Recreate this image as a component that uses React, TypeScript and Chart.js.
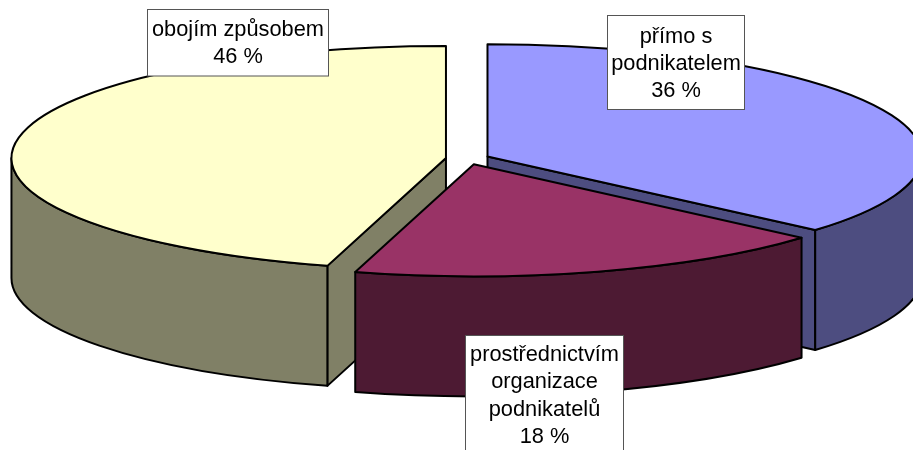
import React, { useEffect, useRef } from "react";
import { Chart, PieController, ArcElement } from "chart.js";

const categories = [["přímo s", "podnikatelem"], ["prostřednictvím", "organizace", "podnikatelů"], ["obojím způsobem"]];
const shares = [36.4, 18.0, 45.6];
const topColors = ["#9999FF", "#993366", "#FFFFCC"];
const sideColors = ["#4D4D80", "#4D1A33", "#808066"];

const WIDTH = 913;
const HEIGHT = 450;
const CENTER_X = 467.6;
const CENTER_Y = 158.8;
const RADIUS = 434.5;
const TILT = 0.258;
const DEPTH = 120;
const EXPLODE = 21.85;
const OUTLINE = 2;
const FONT = '21.8px "Liberation Sans", Arial, sans-serif';
const LINE_GAP = 27.4;
// label boxes: left, top, right, bottom, first baseline
const labelBoxes = [
  [607.5, 15.5, 744.5, 109.5, 42.5],
  [465.5, 335.5, 623.5, 460, 361],
  [147.5, 9.5, 328.5, 76, 36],
];

class Pie3DController extends PieController {
  static id = "pie3d";
  static defaults = { ...PieController.defaults };
  static overrides = PieController.overrides;

  draw() {
    const ctx: CanvasRenderingContext2D = this.chart.ctx;
    const arcs: any[] = this.getMeta().data;
    const order = [0, 2, 1]; // back to front

    for (const i of order) {
      const arc = arcs[i];
      const a1 = arc.startAngle;
      const a2 = arc.endAngle;
      const mid = (a1 + a2) / 2;
      const cx = CENTER_X + Math.cos(mid) * EXPLODE;
      const cy = CENTER_Y + Math.sin(mid) * EXPLODE * TILT;
      const r = arc.outerRadius;
      const px = (a: number) => cx + Math.cos(a) * r;
      const py = (a: number) => cy + Math.sin(a) * r * TILT;

      ctx.save();
      ctx.lineWidth = OUTLINE;
      ctx.strokeStyle = "#000";
      ctx.lineJoin = "round";
      ctx.fillStyle = sideColors[i];

      const face = (a: number) => {
        ctx.beginPath();
        ctx.moveTo(cx, cy);
        ctx.lineTo(px(a), py(a));
        ctx.lineTo(px(a), py(a) + DEPTH);
        ctx.lineTo(cx, cy + DEPTH);
        ctx.closePath();
        ctx.fill();
        ctx.stroke();
      };
      if (Math.cos(a1) < -1e-6) face(a1);
      if (Math.cos(a2) > 1e-6) face(a2);

      const from = Math.max(a1, 0);
      const to = Math.min(a2, Math.PI);
      if (to > from) {
        ctx.beginPath();
        ctx.ellipse(cx, cy, r, r * TILT, 0, from, to);
        ctx.ellipse(cx, cy + DEPTH, r, r * TILT, 0, to, from, true);
        ctx.closePath();
        ctx.fill();
        ctx.stroke();
      }

      // top surface: the library's own arc element, flattened
      ctx.save();
      ctx.translate(cx, cy);
      ctx.scale(1, TILT);
      ctx.translate(-arc.x, -arc.y);
      arc.draw(ctx);
      ctx.restore();

      ctx.beginPath();
      ctx.moveTo(cx, cy);
      ctx.ellipse(cx, cy, r, r * TILT, 0, a1, a2);
      ctx.closePath();
      ctx.stroke();
      ctx.restore();
    }
  }
}

Chart.register(Pie3DController, ArcElement);

const labelPlugin = {
  id: "boxedLabels",
  afterDatasetsDraw(chart: any) {
    const ctx: CanvasRenderingContext2D = chart.ctx;
    ctx.save();
    ctx.font = FONT;
    ctx.textAlign = "center";
    ctx.textBaseline = "alphabetic";
    categories.forEach((lines, i) => {
      const [l, t, r, b, base] = labelBoxes[i];
      ctx.fillStyle = "#fff";
      ctx.strokeStyle = "#555";
      ctx.lineWidth = 1;
      ctx.fillRect(l, t, r - l, b - t);
      ctx.strokeRect(l, t, r - l, b - t);
      ctx.fillStyle = "#000";
      const text = [...lines, `${Math.round(shares[i])} %`];
      text.forEach((line, n) => ctx.fillText(line, (l + r) / 2, base + n * LINE_GAP));
    });
    ctx.restore();
  },
};

export default function App() {
  const ref = useRef<HTMLCanvasElement>(null);
  useEffect(() => {
    const chart = new Chart(ref.current!, {
      type: "pie3d" as any,
      data: {
        labels: categories.map((c) => c.join(" ")),
        datasets: [{ data: shares, backgroundColor: topColors, borderWidth: 0, clip: false } as any],
      },
      options: {
        responsive: false,
        animation: false,
        radius: RADIUS,
        plugins: { legend: { display: false }, tooltip: { enabled: false } },
      } as any,
      plugins: [labelPlugin],
    });
    return () => chart.destroy();
  }, []);
  return (
    <div style={{ position: "absolute", left: 0, top: 0, width: WIDTH, height: HEIGHT, background: "#fff" }}>
      <canvas ref={ref} width={WIDTH} height={HEIGHT} style={{ display: "block" }} />
    </div>
  );
}
